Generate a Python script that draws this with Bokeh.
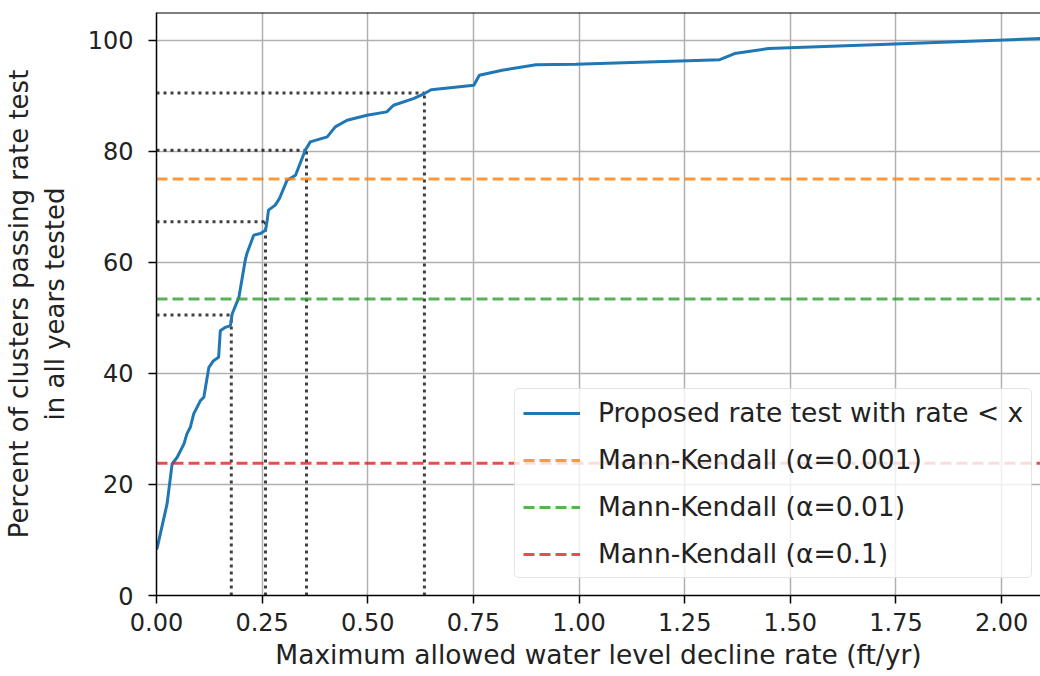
from bokeh.plotting import figure
from bokeh.models import Legend, LegendItem, FixedTicker, PrintfTickFormatter, Span
from bokeh.embed import file_html
from bokeh.resources import INLINE

# Cumulative share of clusters passing the rate test vs. allowed decline rate
rate_x = [0.0, 0.002, 0.025, 0.037, 0.049, 0.065, 0.072, 0.080, 0.088, 0.104,
          0.112, 0.124, 0.135, 0.147, 0.151, 0.163, 0.175, 0.179, 0.195, 0.210,
          0.214, 0.230, 0.246, 0.258, 0.262, 0.265, 0.281, 0.291, 0.309, 0.329,
          0.352, 0.364, 0.404, 0.423, 0.451, 0.498, 0.545, 0.561, 0.608, 0.634,
          0.650, 0.751, 0.764, 0.818, 0.898, 0.992, 1.333, 1.368, 1.448, 1.730,
          2.092]
pct_pass = [8.3, 8.7, 16.5, 23.7, 24.9, 27.3, 29.1, 30.3, 32.7, 35.1,
            35.7, 41.1, 42.3, 42.9, 47.7, 48.3, 48.6, 50.7, 53.7, 60.4,
            61.6, 64.9, 65.2, 65.8, 67.6, 69.4, 70.3, 71.5, 74.8, 75.7,
            80.2, 81.7, 82.6, 84.4, 85.6, 86.5, 87.1, 88.3, 89.5, 90.4,
            91.1, 91.9, 93.7, 94.6, 95.6, 95.7, 96.5, 97.6, 98.5, 99.3,
            100.3]

# Mann-Kendall pass percentages at each significance level
mk_labels = ["Mann-Kendall (\u03b1=0.001)", "Mann-Kendall (\u03b1=0.01)", "Mann-Kendall (\u03b1=0.1)"]
mk_values = [75.0, 53.4, 23.8]
mk_colors = ["#ff7f0e", "#2ca02c", "#d62728"]

# Reference rates and the matching passing percentages
ref_rates = [0.177, 0.258, 0.355, 0.634]
ref_pcts = [50.5, 67.3, 80.2, 90.5]

x_ticks = [0.0, 0.25, 0.5, 0.75, 1.0, 1.25, 1.5, 1.75, 2.0]
y_ticks = [0, 20, 40, 60, 80, 100]

x_title = "Maximum allowed water level decline rate (ft/yr)"
y_title = "Percent of clusters passing rate test\nin all years tested"

FONT = "DejaVu Sans"
X_MAX = 2.092
Y_MAX = 105

p = figure(width=1040, height=676, output_backend="svg", toolbar_location=None,
           x_range=(0, X_MAX), y_range=(0, Y_MAX),
           min_border_left=155, min_border_right=0, min_border_top=12,
           min_border_bottom=81)

# axes spines: left/bottom come from the axes, top from a span; the right
# edge of the axes runs past the page
p.outline_line_color = None
p.background_fill_color = "white"
p.add_layout(Span(location=Y_MAX, dimension="width", line_color="black",
                  line_width=2))

for ax in (p.xaxis[0], p.yaxis[0]):
    ax.major_label_text_font = FONT
    ax.major_label_text_font_size = "24px"
    ax.major_label_text_color = "#222222"
    ax.axis_label_text_font = FONT
    ax.axis_label_text_font_style = "normal"
    ax.axis_label_text_color = "#222222"
    ax.axis_line_color = "black"
    ax.axis_line_width = 1.5
    ax.major_tick_out = 8
    ax.major_tick_in = 0
    ax.major_tick_line_width = 1.5
    ax.minor_tick_line_color = None

p.xaxis.ticker = FixedTicker(ticks=x_ticks)
p.yaxis.ticker = FixedTicker(ticks=y_ticks)
p.xaxis.formatter = PrintfTickFormatter(format="%.2f")
p.xaxis.axis_label = x_title
p.yaxis.axis_label = y_title
p.xaxis.axis_label_text_font_size = "26.5px"
p.yaxis.axis_label_text_font_size = "26px"
p.xaxis.major_label_standoff = 9
p.yaxis.major_label_standoff = 15
p.xaxis.axis_label_standoff = 5
p.yaxis.axis_label_standoff = 15

p.grid.grid_line_color = "#b0b0b0"
p.grid.grid_line_width = 1.5
p.xgrid.ticker = FixedTicker(ticks=x_ticks)
p.ygrid.ticker = FixedTicker(ticks=y_ticks)

# Dotted guide lines from the axes to each reference point
p.segment(x0=[0] * len(ref_rates), y0=ref_pcts, x1=ref_rates, y1=ref_pcts,
          line_color="black", line_alpha=0.75, line_width=3, line_dash="3 4")
p.segment(x0=ref_rates, y0=[0] * len(ref_rates), x1=ref_rates, y1=ref_pcts,
          line_color="black", line_alpha=0.75, line_width=3, line_dash="3 4")

items = []
curve = p.line(rate_x, pct_pass, line_color="#1f77b4", line_width=3)
items.append(LegendItem(label="Proposed rate test with rate < x", renderers=[curve]))

for lab, val, col in zip(mk_labels, mk_values, mk_colors):
    r = p.line([0, X_MAX], [val, val], line_color=col, line_width=3,
               line_alpha=0.8, line_dash="11 5")
    items.append(LegendItem(label=lab, renderers=[r]))

legend = Legend(items=items, location=(358, 17))
legend.label_text_font = FONT
legend.label_text_font_size = "26.5px"
legend.label_text_color = "#222222"
legend.glyph_width = 57
legend.glyph_height = 30
legend.label_height = 30
legend.spacing = 16
legend.padding = 8
legend.margin = 0
legend.label_standoff = 18
legend.border_line_color = "#cccccc"
legend.border_line_width = 1.5
legend.border_radius = 5
legend.background_fill_color = "white"
legend.background_fill_alpha = 0.8
p.add_layout(legend, "center")

open("out.html", "w").write(file_html(p, INLINE))
